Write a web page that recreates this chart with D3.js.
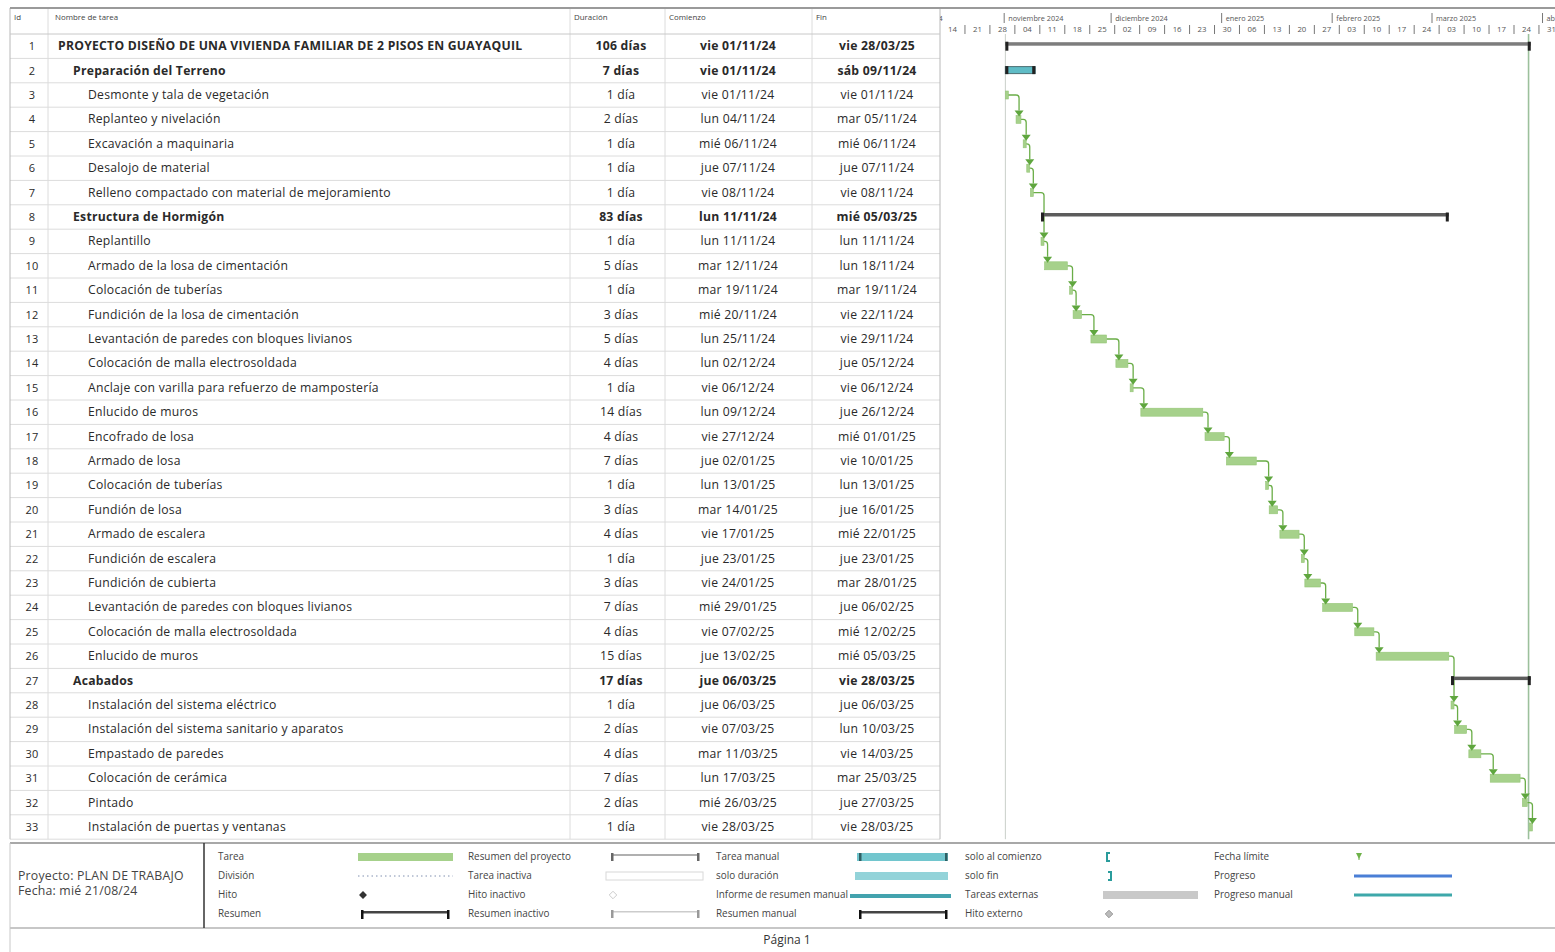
<!DOCTYPE html>
<html>
<head>
<meta charset="utf-8">
<script src="https://cdn.jsdelivr.net/npm/d3@7"></script>
<style>
  body { margin: 0; background: #fff; }
  svg { display: block; font-family: "Open Sans", "Noto Sans", sans-serif; }
</style>
</head>
<body>
<svg id="chart" width="1555" height="952"></svg>
<script>
// ---- Task table ----
const taskIds = [1,2,3,4,5,6,7,8,9,10,11,12,13,14,15,16,17,18,19,20,21,22,23,24,25,26,27,28,29,30,31,32,33];
const taskNames = [
  "PROYECTO DISEÑO DE UNA VIVIENDA FAMILIAR DE 2 PISOS EN GUAYAQUIL",
  "Preparación del Terreno",
  "Desmonte y tala de vegetación",
  "Replanteo y nivelación",
  "Excavación a maquinaria",
  "Desalojo de material",
  "Relleno compactado con material de mejoramiento",
  "Estructura de Hormigón",
  "Replantillo",
  "Armado de la losa de cimentación",
  "Colocación de tuberías",
  "Fundición de la losa de cimentación",
  "Levantación de paredes con bloques livianos",
  "Colocación de malla electrosoldada",
  "Anclaje con varilla para refuerzo de mampostería",
  "Enlucido de muros",
  "Encofrado de losa",
  "Armado de losa",
  "Colocación de tuberías",
  "Fundión de losa",
  "Armado de escalera",
  "Fundición de escalera",
  "Fundición de cubierta",
  "Levantación de paredes con bloques livianos",
  "Colocación de malla electrosoldada",
  "Enlucido de muros",
  "Acabados",
  "Instalación del sistema eléctrico",
  "Instalación del sistema sanitario y aparatos",
  "Empastado de paredes",
  "Colocación de cerámica",
  "Pintado",
  "Instalación de puertas y ventanas"
];
const outlineLevels = [1,2,3,3,3,3,3,2,3,3,3,3,3,3,3,3,3,3,3,3,3,3,3,3,3,3,2,3,3,3,3,3,3];
const durations = [
  "106 días","7 días","1 día","2 días","1 día","1 día","1 día","83 días","1 día","5 días",
  "1 día","3 días","5 días","4 días","1 día","14 días","4 días","7 días","1 día","3 días",
  "4 días","1 día","3 días","7 días","4 días","15 días","17 días","1 día","2 días","4 días",
  "7 días","2 días","1 día"
];
const startLabels = [
  "vie 01/11/24","vie 01/11/24","vie 01/11/24","lun 04/11/24","mié 06/11/24","jue 07/11/24",
  "vie 08/11/24","lun 11/11/24","lun 11/11/24","mar 12/11/24","mar 19/11/24","mié 20/11/24",
  "lun 25/11/24","lun 02/12/24","vie 06/12/24","lun 09/12/24","vie 27/12/24","jue 02/01/25",
  "lun 13/01/25","mar 14/01/25","vie 17/01/25","jue 23/01/25","vie 24/01/25","mié 29/01/25",
  "vie 07/02/25","jue 13/02/25","jue 06/03/25","jue 06/03/25","vie 07/03/25","mar 11/03/25",
  "lun 17/03/25","mié 26/03/25","vie 28/03/25"
];
const finishLabels = [
  "vie 28/03/25","sáb 09/11/24","vie 01/11/24","mar 05/11/24","mié 06/11/24","jue 07/11/24",
  "vie 08/11/24","mié 05/03/25","lun 11/11/24","lun 18/11/24","mar 19/11/24","vie 22/11/24",
  "vie 29/11/24","jue 05/12/24","vie 06/12/24","jue 26/12/24","mié 01/01/25","vie 10/01/25",
  "lun 13/01/25","jue 16/01/25","mié 22/01/25","jue 23/01/25","mar 28/01/25","jue 06/02/25",
  "mié 12/02/25","mié 05/03/25","vie 28/03/25","jue 06/03/25","lun 10/03/25","vie 14/03/25",
  "mar 25/03/25","jue 27/03/25","vie 28/03/25"
];
// finish-to-start predecessor of each task (0 = none)
const predecessors = [0,0,0,3,4,5,6,0,7,9,10,11,12,13,14,15,16,17,18,19,20,21,22,23,24,25,0,26,28,29,30,31,32];
const manualSummaryIds = [2];
const columnHeaders = ["Id","Nombre de tarea","Duración","Comienzo","Fin"];

// ---- Timescale ----
const timescaleStart = "14/10/24";
const timescaleEnd = "04/04/25";
const monthNames = ["enero","febrero","marzo","abril","mayo","junio","julio","agosto","septiembre","octubre","noviembre","diciembre"];

// ---- Legend ----
const legendLabels = [
  ["Tarea","División","Hito","Resumen"],
  ["Resumen del proyecto","Tarea inactiva","Hito inactivo","Resumen inactivo"],
  ["Tarea manual","solo duración","Informe de resumen manual","Resumen manual"],
  ["solo al comienzo","solo fin","Tareas externas","Hito externo"],
  ["Fecha límite","Progreso","Progreso manual"]
];
const legendSymbols = [
  ["task","split","milestone","summary"],
  ["projectSummary","inactiveTask","inactiveMilestone","inactiveSummary"],
  ["manualTask","durationOnly","manualSummaryRollup","manualSummary"],
  ["startOnly","finishOnly","externalTask","externalMilestone"],
  ["deadline","progress","manualProgress"]
];
const projectInfo = ["Proyecto: PLAN DE TRABAJO","Fecha: mié 21/08/24"];
const pageLabel = "Página 1";

// ---------------------------------------------------------------
const W = 1555, H = 952;
const svg = d3.select("#chart");
const parseDay = d3.timeParse("%d/%m/%y");
const dayOf = s => parseDay(s.split(" ").pop());
const atHour = (d, h) => d3.timeHour.offset(d, h);

const colEdges = [10, 48, 570, 665, 812, 940];
const headerX = [14, 55, 574, 669, 816];
const ganttLeft = 940, ganttRight = W;
const headerTop = 8, headerBottom = 34;
const rowH = 24.4;

const tasks = taskIds.map((id, i) => ({
  id, name: taskNames[i], level: outlineLevels[i], dur: durations[i],
  startLabel: startLabels[i], finishLabel: finishLabels[i],
  start: atHour(dayOf(startLabels[i]), 8), finish: atHour(dayOf(finishLabels[i]), 17),
  pred: predecessors[i]
}));
const byId = new Map(tasks.map(t => [t.id, t]));

const x = d3.scaleTime()
  .domain([dayOf(timescaleStart), atHour(dayOf(timescaleEnd), 12)])
  .range([ganttLeft, ganttRight]);
const y = d3.scaleBand()
  .domain(taskIds)
  .range([headerBottom, headerBottom + rowH * taskIds.length]);
const cy = id => y(id) + y.bandwidth() / 2;
const tableBottom = headerBottom + rowH * taskIds.length;

// ---- table grid ----
const grid = svg.append("g");
grid.selectAll("line.row").data(taskIds).join("line")
  .attr("x1", colEdges[0]).attr("x2", ganttLeft)
  .attr("y1", d => y(d) + y.bandwidth()).attr("y2", d => y(d) + y.bandwidth())
  .attr("stroke", "#dcdcdc").attr("stroke-width", 1);
grid.selectAll("line.col").data(colEdges).join("line")
  .attr("x1", d => d).attr("x2", d => d)
  .attr("y1", headerTop).attr("y2", tableBottom)
  .attr("stroke", (d, i) => i === 0 || i === colEdges.length - 1 ? "#b8b8b8" : "#dcdcdc")
  .attr("stroke-width", 1);
grid.append("line").attr("x1", colEdges[0]).attr("x2", ganttLeft)
  .attr("y1", headerBottom).attr("y2", headerBottom).attr("stroke", "#c8c8c8");
grid.append("line").attr("x1", colEdges[0]).attr("x2", W)
  .attr("y1", headerTop).attr("y2", headerTop).attr("stroke", "#9a9a9a").attr("stroke-width", 2);

// ---- header labels ----
svg.append("g").selectAll("text").data(columnHeaders).join("text")
  .attr("x", (d, i) => headerX[i]).attr("y", 20)
  .attr("font-size", 7.9).attr("fill", "#444").text(d => d);

// ---- table cells ----
const rows = svg.append("g").selectAll("g").data(tasks).join("g")
  .attr("transform", d => `translate(0,${cy(d.id) + 4})`)
  .attr("font-size", 12.2).attr("letter-spacing", 0.25).attr("fill", "#2a2a2a")
  .attr("font-weight", d => d.level < 3 ? "bold" : "normal");
rows.append("text").attr("x", 32).attr("text-anchor", "middle")
  .attr("font-weight", "normal").attr("font-size", 11).text(d => d.id);
rows.append("text").attr("x", d => 43 + 15 * d.level).text(d => d.name);
rows.append("text").attr("x", 621).attr("text-anchor", "middle").text(d => d.dur);
rows.append("text").attr("x", 738).attr("text-anchor", "middle").text(d => d.startLabel);
rows.append("text").attr("x", 877).attr("text-anchor", "middle").text(d => d.finishLabel);

// ---- timescale header ----
svg.append("clipPath").attr("id", "gclip").append("rect")
  .attr("x", ganttLeft).attr("y", 0).attr("width", ganttRight - ganttLeft).attr("height", H);
const scale = svg.append("g").attr("clip-path", "url(#gclip)")
  .attr("font-size", 7.3).attr("fill", "#555");
const months = d3.timeMonth.range(d3.timeMonth.floor(x.domain()[0]), x.domain()[1]);
scale.selectAll("line.m").data(months).join("line")
  .attr("x1", d => x(d)).attr("x2", d => x(d)).attr("y1", 13).attr("y2", 23)
  .attr("stroke", "#777");
scale.selectAll("text.m").data(months).join("text")
  .attr("x", d => x(d) + 4).attr("y", 21)
  .text(d => `${monthNames[d.getMonth()]} ${d.getFullYear()}`);
const weeks = d3.timeMonday.range(x.domain()[0], x.domain()[1]);
scale.selectAll("line.w").data(weeks.slice(1)).join("line")
  .attr("x1", d => x(d)).attr("x2", d => x(d)).attr("y1", 25).attr("y2", 34)
  .attr("stroke", "#777");
scale.selectAll("text.w").data(weeks).join("text")
  .attr("x", d => x(d3.timeHour.offset(d, 84))).attr("y", 32).attr("text-anchor", "middle")
  .attr("font-size", 7.8)
  .text(d3.timeFormat("%d"));

// ---- gantt body ----
const body = svg.append("g").attr("clip-path", "url(#gclip)");
const proj = tasks[0];
[proj.start, atHour(d3.timeDay.floor(proj.finish), 2)].forEach((d, i) => {
  body.append("line").attr("x1", x(d)).attr("x2", x(d))
    .attr("y1", headerBottom).attr("y2", tableBottom)
    .attr("stroke", i === 0 ? "#c9cfc9" : "#9cc09c").attr("stroke-width", i === 0 ? 1 : 1.6);
});

const green = "#a6d18b", greenDark = "#6aad47";
const leaf = tasks.filter(t => t.level === 3);
const summary = tasks.filter(t => t.level < 3 && !manualSummaryIds.includes(t.id));
const manual = tasks.filter(t => manualSummaryIds.includes(t.id));

// links
const links = tasks.filter(t => t.pred);
const dropX = t => Math.max(x(t.start) + 3, x(byId.get(t.pred).finish) + 4);
body.selectAll("path.link").data(links).join("path")
  .attr("fill", "none").attr("stroke", greenDark).attr("stroke-width", 1.3)
  .attr("d", t => {
    const p = byId.get(t.pred);
    const xe = x(p.finish), y0 = cy(p.id);
    const xv = dropX(t);
    const y1 = cy(t.id) - 9;
    return `M${xe},${y0}H${xv - 3}Q${xv},${y0} ${xv},${y0 + 3}V${y1}`;
  });

// task bars
body.selectAll("rect.task").data(leaf).join("rect")
  .attr("x", d => x(d.start)).attr("y", d => cy(d.id) - 4)
  .attr("width", d => Math.max(3, x(d.finish) - x(d.start))).attr("height", 8)
  .attr("fill", green).attr("stroke", "#95c577").attr("stroke-width", 0.6);

// arrowheads on successor bars
body.selectAll("path.head").data(links).join("path")
  .attr("fill", "#5fa63e")
  .attr("d", t => {
    const xv = dropX(t);
    const yt = cy(t.id) - 3;
    return `M${xv - 4.5},${yt - 6}L${xv + 4.5},${yt - 6}L${xv},${yt}Z`;
  });

// summary bars
const sumG = body.selectAll("g.sum").data(summary).join("g");
sumG.append("rect")
  .attr("x", d => x(d.start)).attr("y", d => cy(d.id) - 4)
  .attr("width", d => x(d.finish) - x(d.start)).attr("height", 3.5)
  .attr("fill", d => d.level === 1 ? "#7d7d7d" : "#5c5c5c");
sumG.selectAll("rect.cap").data(d => [[d, d.start, 0], [d, d.finish, -3]]).join("rect")
  .attr("x", c => x(c[1]) + c[2]).attr("y", c => cy(c[0].id) - 4.5)
  .attr("width", 3).attr("height", 9).attr("fill", "#222");

// manual summary bar
const manG = body.selectAll("g.man").data(manual).join("g");
manG.append("rect")
  .attr("x", d => x(d.start)).attr("y", d => cy(d.id) - 4)
  .attr("width", d => x(d.finish) - x(d.start)).attr("height", 7)
  .attr("fill", "#5fbcc6").attr("stroke", "#4d6f73").attr("stroke-width", 1);
manG.selectAll("rect.cap").data(d => [[d, d.start, 0], [d, d.finish, -3]]).join("rect")
  .attr("x", c => x(c[1]) + c[2]).attr("y", c => cy(c[0].id) - 4.5)
  .attr("width", 3).attr("height", 8).attr("fill", "#222");

// ---- legend ----
const legTop = 843, legBottom = 928;
svg.append("line").attr("x1", 10).attr("x2", W).attr("y1", legTop).attr("y2", legTop)
  .attr("stroke", "#a8a8a8").attr("stroke-width", 2);
svg.append("line").attr("x1", 10).attr("x2", W).attr("y1", legBottom).attr("y2", legBottom)
  .attr("stroke", "#b5b5b5").attr("stroke-width", 1.5);
svg.append("line").attr("x1", 10).attr("x2", 10).attr("y1", legTop).attr("y2", H)
  .attr("stroke", "#c8c8c8");
svg.append("line").attr("x1", 204).attr("x2", 204).attr("y1", legTop).attr("y2", legBottom)
  .attr("stroke", "#333").attr("stroke-width", 1.5);
svg.append("g").selectAll("text").data(projectInfo).join("text")
  .attr("x", 18).attr("y", (d, i) => 880 + i * 15)
  .attr("font-size", 12.3).attr("letter-spacing", 0.2).attr("fill", "#444").text(d => d);

const legColX = [218, 468, 716, 965, 1214];
const legRowY = [857, 876, 895, 914];
const leg = svg.append("g");
legendLabels.forEach((col, ci) => {
  col.forEach((lab, ri) => {
    const lx = legColX[ci], ly = legRowY[ri];
    leg.append("text").attr("x", lx).attr("y", ly + 3).attr("font-size", 9.9).attr("fill", "#444").text(lab);
    const sx = lx + 140, sw = 95;
    const g = leg.append("g");
    const kind = legendSymbols[ci][ri];
    const caps = (color, h) => {
      g.append("rect").attr("x", sx + 3).attr("y", ly - 4).attr("width", 2.5).attr("height", h).attr("fill", color);
      g.append("rect").attr("x", sx + sw - 6).attr("y", ly - 4).attr("width", 2.5).attr("height", h).attr("fill", color);
    };
    switch (kind) {
      case "task":
        g.append("rect").attr("x", sx).attr("y", ly - 4).attr("width", sw).attr("height", 8).attr("fill", green); break;
      case "split":
        g.append("line").attr("x1", sx).attr("x2", sx + sw).attr("y1", ly).attr("y2", ly)
          .attr("stroke", "#8090b0").attr("stroke-width", 1).attr("stroke-dasharray", "1.5,3"); break;
      case "milestone":
        g.append("path").attr("d", d3.symbol(d3.symbolDiamond2, 40)()).attr("transform", `translate(${sx + 5},${ly})`).attr("fill", "#333"); break;
      case "summary":
      case "manualSummary":
        g.append("rect").attr("x", sx + 3).attr("y", ly - 3).attr("width", sw - 8).attr("height", 2.5).attr("fill", "#444");
        caps("#111", 9); break;
      case "projectSummary":
        g.append("rect").attr("x", sx + 3).attr("y", ly - 3).attr("width", sw - 8).attr("height", 2).attr("fill", "#b0b0b0");
        caps("#666", 8); break;
      case "inactiveTask":
        g.append("rect").attr("x", sx - 2).attr("y", ly - 4).attr("width", sw + 2).attr("height", 8)
          .attr("fill", "#fff").attr("stroke", "#d8d8d8"); break;
      case "inactiveMilestone":
        g.append("path").attr("d", d3.symbol(d3.symbolDiamond2, 36)()).attr("transform", `translate(${sx + 5},${ly})`)
          .attr("fill", "#fff").attr("stroke", "#ccc"); break;
      case "inactiveSummary":
        g.append("rect").attr("x", sx + 3).attr("y", ly - 3).attr("width", sw - 8).attr("height", 1.5).attr("fill", "#ccc");
        caps("#999", 8); break;
      case "manualTask":
        g.append("rect").attr("x", sx + 1).attr("y", ly - 4).attr("width", sw - 4).attr("height", 8).attr("fill", "#72c6ce");
        caps("#2f5f63", 8); break;
      case "durationOnly":
        g.append("rect").attr("x", sx - 1).attr("y", ly - 4).attr("width", sw - 2).attr("height", 8).attr("fill", "#93d3d9"); break;
      case "manualSummaryRollup":
        g.append("rect").attr("x", sx - 6).attr("y", ly - 1).attr("width", sw + 6).attr("height", 4).attr("fill", "#43a3ae"); break;
      case "startOnly":
        g.append("path").attr("d", `M${sx + 5},${ly - 4}h-3v8h3`).attr("fill", "none").attr("stroke", "#2a9c9c").attr("stroke-width", 2); break;
      case "finishOnly":
        g.append("path").attr("d", `M${sx + 3},${ly - 4}h3v8h-3`).attr("fill", "none").attr("stroke", "#2a9c9c").attr("stroke-width", 2); break;
      case "externalTask":
        g.append("rect").attr("x", sx - 2).attr("y", ly - 4).attr("width", sw).attr("height", 8).attr("fill", "#c9c9c9"); break;
      case "externalMilestone":
        g.append("path").attr("d", d3.symbol(d3.symbolDiamond2, 36)()).attr("transform", `translate(${sx + 4},${ly})`)
          .attr("fill", "#bbb").attr("stroke", "#999"); break;
      case "deadline":
        g.append("path").attr("d", `M${sx + 2},${ly - 4}L${sx + 8},${ly - 4}L${sx + 5},${ly + 2}Z`).attr("fill", "#6fb24a");
        g.append("line").attr("x1", sx + 5).attr("x2", sx + 5).attr("y1", ly - 4).attr("y2", ly + 3).attr("stroke", "#6fb24a"); break;
      case "progress":
        g.append("rect").attr("x", sx).attr("y", ly - 1.5).attr("width", sw + 3).attr("height", 3).attr("fill", "#4a7fd6"); break;
      case "manualProgress":
        g.append("rect").attr("x", sx).attr("y", ly - 1.5).attr("width", sw + 3).attr("height", 3).attr("fill", "#3ea8aa"); break;
    }
  });
});

svg.append("text").attr("x", 787).attr("y", 944).attr("text-anchor", "middle")
  .attr("font-size", 12).attr("fill", "#333").text(pageLabel);
</script>
</body>
</html>
